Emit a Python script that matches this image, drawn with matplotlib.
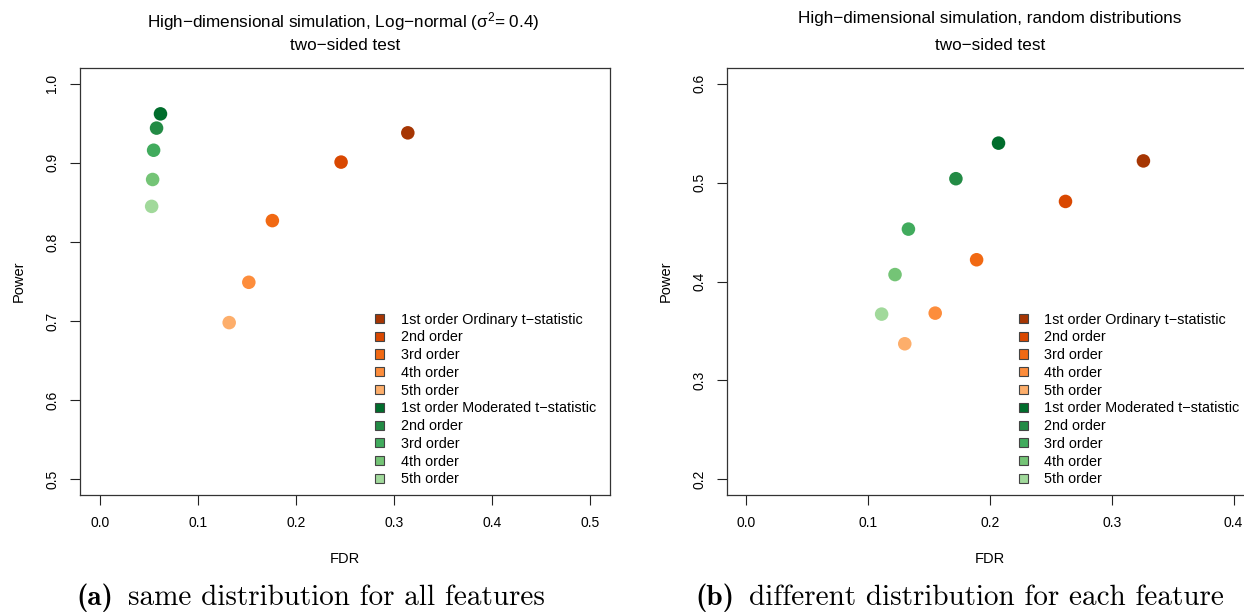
import matplotlib
matplotlib.use("Agg")
import matplotlib.pyplot as plt
from matplotlib.patches import Patch

plt.rcParams['font.family'] = ['Liberation Sans', 'DejaVu Sans']
plt.rcParams['mathtext.default'] = 'regular'

# data
fdr_ord_a = [0.314, 0.246, 0.176, 0.152, 0.132]
pow_ord_a = [0.938, 0.901, 0.827, 0.749, 0.698]
fdr_mod_a = [0.062, 0.058, 0.055, 0.054, 0.053]
pow_mod_a = [0.962, 0.944, 0.916, 0.879, 0.845]

fdr_ord_b = [0.326, 0.262, 0.189, 0.155, 0.130]
pow_ord_b = [0.522, 0.481, 0.422, 0.368, 0.337]
fdr_mod_b = [0.207, 0.172, 0.133, 0.122, 0.111]
pow_mod_b = [0.540, 0.504, 0.453, 0.407, 0.367]

oranges = ['#A63603', '#D94801', '#F16913', '#FD8D3C', '#FDAE6B']
greens = ['#006D2C', '#238B45', '#41AB5D', '#74C476', '#A1D99B']
labels = ['1st order Ordinary t\u2212statistic', '2nd order', '3rd order', '4th order', '5th order',
          '1st order Moderated t\u2212statistic', '2nd order', '3rd order', '4th order', '5th order']

W, H = 1244, 616
fig = plt.figure(figsize=(W / 100, H / 100), dpi=100)


def px_axes(l, t, r, b):
    return fig.add_axes([l / W, 1 - b / H, (r - l) / W, (b - t) / H])


def panel(ax, fo, po, fm, pm, xlim, ylim, xticks, yticks, leg_x):
    ax.scatter(fo, po, s=95, c=oranges, edgecolors='none', zorder=3)
    ax.scatter(fm, pm, s=95, c=greens, edgecolors='none', zorder=3)
    ax.set_xlim(xlim)
    ax.set_ylim(ylim)
    ax.set_xticks(xticks)
    ax.set_yticks(yticks)
    ax.set_xticklabels(['%.1f' % v for v in xticks])
    ax.set_yticklabels(['%.1f' % v for v in yticks], rotation=90, va='center')
    ax.tick_params(direction='out', length=7, width=0.8, labelsize=10, pad=8, color='#222222')
    for s in ax.spines.values():
        s.set_linewidth(0.9)
        s.set_color('#333333')
    ax.set_xlabel('FDR', fontsize=10.5, labelpad=16)
    ax.set_ylabel('Power', fontsize=10.5, labelpad=14)
    handles = [Patch(facecolor=c, edgecolor='#444444', lw=0.8) for c in oranges + greens]
    ax.legend(handles=handles, labels=labels, loc='lower left', bbox_to_anchor=(leg_x, 0.02),
              frameon=False, fontsize=10.4, handlelength=0.6, handleheight=0.6,
              handletextpad=1.17, labelspacing=0.26, borderpad=0, borderaxespad=0)


ax1 = px_axes(80, 68, 610, 495)
panel(ax1, fdr_ord_a, pow_ord_a, fdr_mod_a, pow_mod_a, (-0.02, 0.52), (0.48, 1.02),
      [0.0, 0.1, 0.2, 0.3, 0.4, 0.5], [0.5, 0.6, 0.7, 0.8, 0.9, 1.0], 0.557)

ax2 = px_axes(727, 68, 1253, 495)
panel(ax2, fdr_ord_b, pow_ord_b, fdr_mod_b, pow_mod_b, (-0.016, 0.416), (0.184, 0.616),
      [0.0, 0.1, 0.2, 0.3, 0.4], [0.2, 0.3, 0.4, 0.5, 0.6], 0.555)

fig.text(343 / W, 1 - 22 / H, 'High\u2212dimensional simulation, Log\u2212normal (\u03c3$^2$= 0.4)',
         ha='center', va='center', fontsize=12.3)
fig.text(345 / W, 1 - 46 / H, 'two\u2212sided test', ha='center', va='center', fontsize=12.3)
fig.text(990 / W, 1 - 19 / H, 'High\u2212dimensional simulation, random distributions',
         ha='center', va='center', fontsize=12.3)
fig.text(990 / W, 1 - 46 / H, 'two\u2212sided test', ha='center', va='center', fontsize=12.3)

# captions
fig.text(76 / W, 1 - 598 / H, '(a)', family='cmb10', fontsize=21, ha='left', va='center')
fig.text(128 / W, 1 - 598 / H, 'same distribution for all features', family='cmr10', fontsize=21,
         ha='left', va='center')
fig.text(695 / W, 1 - 598 / H, '(b)', family='cmb10', fontsize=21, ha='left', va='center')
fig.text(749 / W, 1 - 598 / H, 'different distribution for each feature', family='cmr10', fontsize=21,
         ha='left', va='center')

fig.savefig('out.png', dpi=100)
